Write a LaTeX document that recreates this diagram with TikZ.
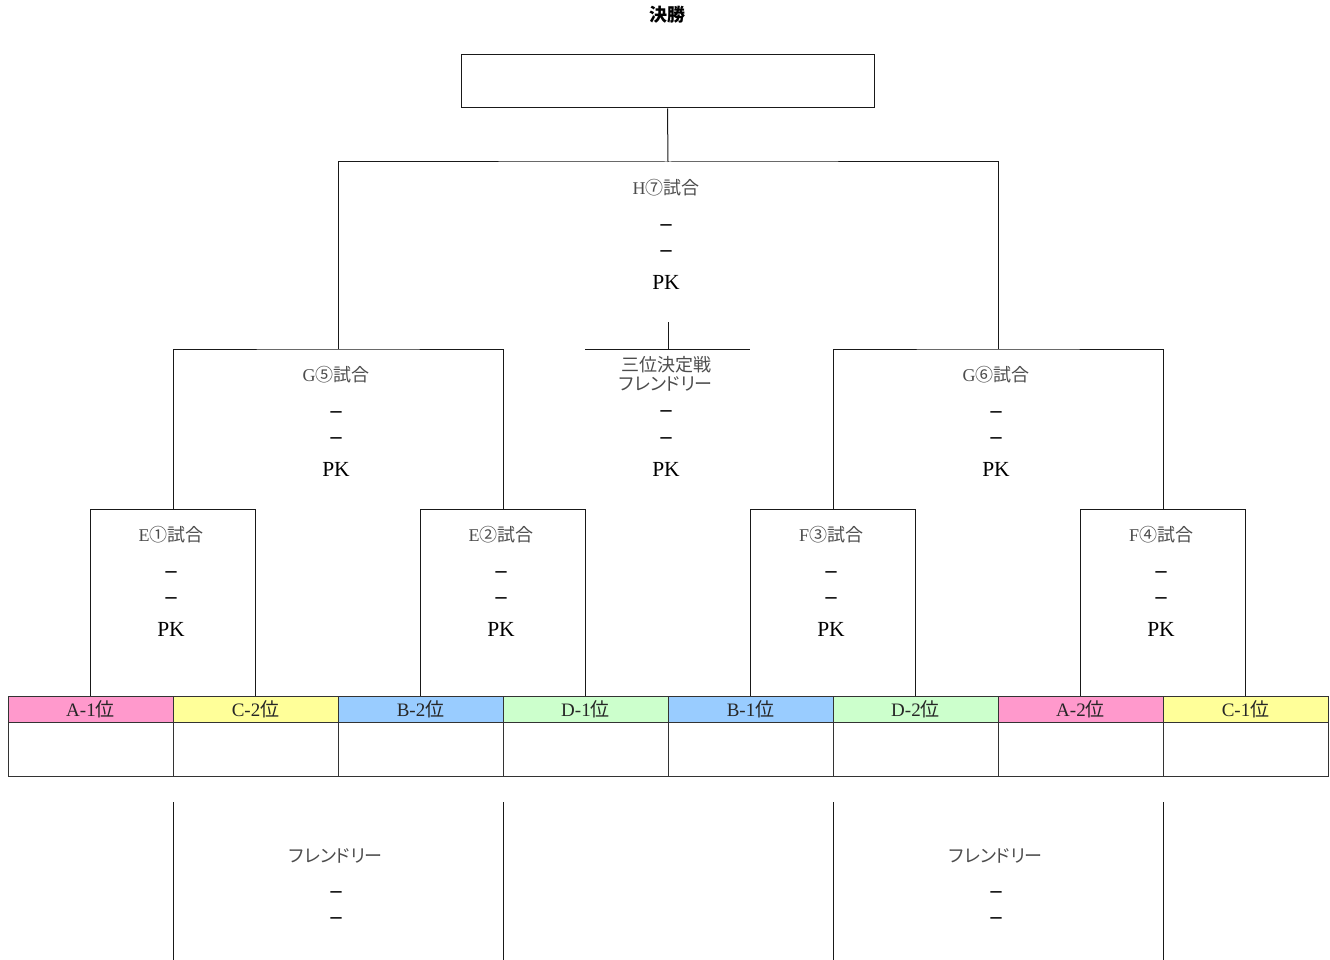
\documentclass[tikz,border=0pt]{standalone}
\usepackage{fontspec}
\setmainfont{Liberation Serif}
\newfontfamily\jp{Noto Sans CJK JP}
\newfontfamily\jpp[RawFeature=+palt]{Noto Sans CJK JP}
\definecolor{pinkc}{HTML}{FF99CC}
\definecolor{yelc}{HTML}{FFFF99}
\definecolor{bluec}{HTML}{99CCFF}
\definecolor{greenc}{HTML}{CCFFCC}
\newcommand\MatchLabels[4]{%
  \node[lbl] (#1t) at (#2,#3) {#4};
  \node[dsh] (#1a) at (#2,#3+40) {–};
  \node[dsh] (#1b) at (#2,#3+66) {–};
  \node[pk] (#1p) at (#2,#3+94) {PK};
}
\begin{document}
\begin{tikzpicture}[x=1pt,y=-1pt,
  ln/.style={draw=black!90, line width=1pt},
  lbl/.style={font=\jp\fontsize{18}{19}\selectfont, text=black!70, inner sep=0pt, align=center},
  dsh/.style={font=\bfseries\fontsize{22}{22}\selectfont, inner sep=0pt},
  pk/.style={font=\fontsize{21.5}{21.5}\selectfont, inner sep=0pt},
  ttl/.style={font=\jp\bfseries\fontsize{18}{18}\selectfont, inner sep=0pt},
  mbox/.style={draw=black!90, line width=1pt, minimum width=165pt, minimum height=187pt, inner sep=0pt},
  cell/.style={draw=black!80, line width=1pt, minimum width=165pt, minimum height=26pt, inner sep=0pt, font=\fontsize{19}{19}\selectfont, text=black!85},
  wcell/.style={draw=black!80, line width=1pt, minimum width=165pt, minimum height=54pt, inner sep=0pt}
]
\useasboundingbox (0,0) rectangle (1330,960);
\node[ttl] (title) at (667,15) {決勝};
\node[draw=black!90, line width=1pt, minimum width=413pt, minimum height=53pt, inner sep=0pt] (final) at (667.5,81.5) {};

% match boxes
\node[mbox] (E1) at (173,602.5) {};
\node[mbox] (E2) at (503,602.5) {};
\node[mbox] (F3) at (833,602.5) {};
\node[mbox] (F4) at (1163,602.5) {};

% cells
\foreach \i/\l/\c in {1/A-1/pinkc,2/C-2/yelc,3/B-2/bluec,4/D-1/greenc,5/B-1/bluec,6/D-2/greenc,7/A-2/pinkc,8/C-1/yelc}{
  \node[cell, fill=\c] (c\i) at ({90.5+165*(\i-1)},709) {\l{\jp 位}};
  \node[wcell] (w\i) at ({90.5+165*(\i-1)},749) {};
}

% bracket coordinates
\coordinate (g5) at (338,349);
\coordinate (g6) at (998,349);
\coordinate (h7) at (668,162);
\coordinate (tpl) at (585,349);
\coordinate (tpr) at (750,349);
\coordinate (tp) at (668,349);
\coordinate (tpt) at (668,322);

\draw[ln] (E1.north) |- (g5) -| (E2.north);
\draw[ln] (F3.north) |- (g6) -| (F4.north);
\draw[ln] (g5) |- (h7) -| (g6);
\draw[ln] (h7) -- (final.south);
\draw[ln] (tpl) -- (tpr);
\draw[ln] (tpt) -- (tp);

% bottom friendly brackets
\foreach \n/\x in {1/173,2/503,3/833,4/1163}{
  \coordinate (bt\n) at (\x,802);
  \coordinate (bb\n) at (\x,960);
  \draw[ln] (bt\n) -- (bb\n);
}

% labels
\MatchLabels{h7l}{666}{188}{\rmfamily H{\jp ⑦試合}}
\MatchLabels{g5l}{336}{375}{\rmfamily G{\jp ⑤試合}}
\MatchLabels{g6l}{996}{375}{\rmfamily G{\jp ⑥試合}}
\MatchLabels{e1l}{171}{535}{\rmfamily E{\jp ①試合}}
\MatchLabels{e2l}{501}{535}{\rmfamily E{\jp ②試合}}
\MatchLabels{f3l}{831}{535}{\rmfamily F{\jp ③試合}}
\MatchLabels{f4l}{1161}{535}{\rmfamily F{\jp ④試合}}

\node[lbl] (tpt1) at (666,365) {三位決定戦};
\node[lbl] (tpt2) at (666,384) {\jpp フレンドリー};
\node[dsh] (tpa) at (666,414) {–};
\node[dsh] (tpb) at (666,441) {–};
\node[pk] (tpp) at (666,469) {PK};

\node[lbl] (fr1) at (336,856) {\jpp フレンドリー};
\node[dsh] (fr1a) at (336,895) {–};
\node[dsh] (fr1b) at (336,921) {–};
\node[lbl] (fr2) at (996,856) {\jpp フレンドリー};
\node[dsh] (fr2a) at (996,895) {–};
\node[dsh] (fr2b) at (996,921) {–};
\end{tikzpicture}
\end{document}
